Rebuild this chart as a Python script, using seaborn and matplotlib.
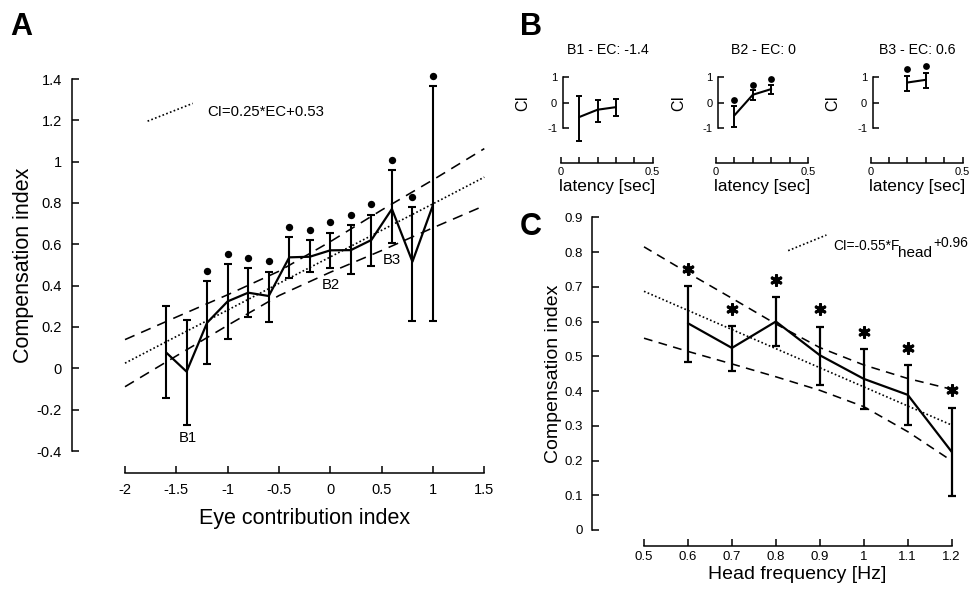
import matplotlib
matplotlib.use("Agg")
import matplotlib.pyplot as plt
import seaborn as sns
from matplotlib.lines import Line2D
from matplotlib.collections import Collection

# ---------------- data ----------------
# Panel A
ec = [-1.6, -1.4, -1.2, -1.0, -0.8, -0.6, -0.4, -0.2, 0.0, 0.2, 0.4, 0.6, 0.8, 1.0]
ci_a = [0.077, -0.016, 0.221, 0.324, 0.366, 0.350, 0.537, 0.540, 0.571, 0.572, 0.621, 0.771, 0.516, 0.790]
ci_a_hi = [0.303, 0.234, 0.424, 0.503, 0.484, 0.467, 0.637, 0.619, 0.656, 0.692, 0.743, 0.959, 0.779, 1.367]
ci_a_lo = [-0.142, -0.274, 0.021, 0.140, 0.247, 0.226, 0.435, 0.464, 0.484, 0.455, 0.495, 0.608, 0.230, 0.230]
star_a_x = [-1.2, -1.0, -0.8, -0.6, -0.4, -0.2, 0.0, 0.2, 0.4, 0.6, 0.8, 1.0]
star_a_y = [0.472, 0.552, 0.535, 0.518, 0.685, 0.669, 0.706, 0.742, 0.795, 1.008, 0.829, 1.414]
fit_a_x = [-2.0, -1.5, -1.0, -0.5, 0.0, 0.5, 1.0, 1.5]
fit_a_mid = [0.025, 0.154, 0.282, 0.411, 0.539, 0.668, 0.796, 0.925]
fit_a_hi = [0.139, 0.248, 0.356, 0.470, 0.613, 0.766, 0.912, 1.063]
fit_a_lo = [-0.089, 0.060, 0.208, 0.352, 0.465, 0.570, 0.680, 0.787]
key_a_x = [-1.78, -1.34]
key_a_y = [1.196, 1.282]
labels_a = ["B1", "B2", "B3"]
labels_a_x = [-1.39, 0.0, 0.6]
labels_a_y = [-0.338, 0.403, 0.524]
yticks_a = [-0.4, -0.2, 0.0, 0.2, 0.4, 0.6, 0.8, 1.0, 1.2, 1.4]
yticklabels_a = ["-0.4", "-0.2", "0", "0.2", "0.4", "0.6", "0.8", "1", "1.2", "1.4"]
xticks_a = [-2.0, -1.5, -1.0, -0.5, 0.0, 0.5, 1.0, 1.5]
xticklabels_a = ["-2", "-1.5", "-1", "-0.5", "0", "0.5", "1", "1.5"]

# Panel B
b_titles = ["B1 - EC: -1.4", "B2 - EC: 0", "B3 - EC: 0.6"]
b1_x = [0.1, 0.2, 0.3]
b1_y = [-0.566, -0.28, -0.18]
b1_hi = [0.27, 0.10, 0.13]
b1_lo = [-1.51, -0.74, -0.54]
b1_star_x = []
b1_star_y = []
b2_x = [0.1, 0.2, 0.3]
b2_y = [-0.50, 0.30, 0.52]
b2_hi = [-0.155, 0.47, 0.69]
b2_lo = [-0.96, 0.10, 0.34]
b2_star_x = [0.1, 0.2, 0.3]
b2_star_y = [0.10, 0.68, 0.92]
b3_x = [0.2, 0.3]
b3_y = [0.775, 0.88]
b3_hi = [1.03, 1.16]
b3_lo = [0.465, 0.58]
b3_star_x = [0.2, 0.3]
b3_star_y = [1.29, 1.42]
xticks_b = [0.0, 0.1, 0.2, 0.3, 0.4, 0.5]
xticklabels_b = ["0", "", "", "", "", "0.5"]
yticks_b = [-1, 0, 1]
yticklabels_b = ["-1", "0", "1"]

# Panel C
freq = [0.6, 0.7, 0.8, 0.9, 1.0, 1.1, 1.2]
ci_c = [0.595, 0.524, 0.600, 0.503, 0.435, 0.389, 0.225]
ci_c_hi = [0.702, 0.587, 0.670, 0.585, 0.521, 0.474, 0.352]
ci_c_lo = [0.483, 0.458, 0.531, 0.417, 0.348, 0.303, 0.099]
star_c_y = [0.751, 0.636, 0.720, 0.636, 0.571, 0.523, 0.402]
fit_c_x = [0.5, 0.6, 0.7, 0.8, 0.9, 1.0, 1.1, 1.2]
fit_c_mid = [0.687, 0.632, 0.577, 0.522, 0.467, 0.412, 0.357, 0.302]
fit_c_hi = [0.815, 0.740, 0.667, 0.593, 0.525, 0.475, 0.436, 0.405]
fit_c_lo = [0.552, 0.514, 0.478, 0.441, 0.402, 0.355, 0.283, 0.199]
key_c_x = [0.828, 0.915]
key_c_y = [0.804, 0.849]
xticks_c = [0.5, 0.6, 0.7, 0.8, 0.9, 1.0, 1.1, 1.2]
xticklabels_c = ["0.5", "0.6", "0.7", "0.8", "0.9", "1", "1.1", "1.2"]
yticks_c = [0.0, 0.1, 0.2, 0.3, 0.4, 0.5, 0.6, 0.7, 0.8, 0.9]
yticklabels_c = ["0", "0.1", "0.2", "0.3", "0.4", "0.5", "0.6", "0.7", "0.8", "0.9"]

# ---------------- style ----------------
sns.set_theme(style="ticks")
plt.rcParams["font.family"] = ["Liberation Sans", "DejaVu Sans"]
for k in ["text.color", "axes.labelcolor", "xtick.color", "ytick.color", "axes.edgecolor"]:
    plt.rcParams[k] = "black"

W, H = 970, 590
fig = plt.figure(figsize=(W / 100, H / 100), dpi=100)
PT = 0.72  # points per pixel
DOT = (1, 1.4)


def add_axes_px(l, t, r, b):
    ax = fig.add_axes([l / W, 1 - b / H, (r - l) / W, (b - t) / H])
    ax.set_facecolor("none")
    return ax, (l, t, r, b)


def px2ax(box, x, y):
    l, t, r, b = box
    return (x - l) / (r - l), (b - y) / (b - t)


def unclip(ax):
    for ch in ax.get_children():
        if isinstance(ch, (Line2D, Collection)):
            ch.set_clip_on(False)


def errbars(ax, x, y, lo, hi, lw=1.5, cap=2.6):
    yerr = [[yy - l for yy, l in zip(y, lo)], [h - yy for yy, h in zip(y, hi)]]
    ax.errorbar(x, y, yerr=yerr, fmt="none", ecolor="black", elinewidth=lw,
                capsize=cap, capthick=lw)


def style_axes(ax, left_out, bottom_out, lw=1.1):
    for s in ["top", "right"]:
        ax.spines[s].set_visible(False)
    ax.spines["left"].set_position(("outward", left_out))
    ax.spines["bottom"].set_position(("outward", bottom_out))
    ax.spines["left"].set_linewidth(lw)
    ax.spines["bottom"].set_linewidth(lw)


# ---------------- Panel A ----------------
axA, boxA = add_axes_px(125, 79, 484.3, 451)
sns.lineplot(x=fit_a_x, y=fit_a_hi, ax=axA, color="black", linewidth=1.15,
             dashes=(6.5, 4.5), errorbar=None)
sns.lineplot(x=fit_a_x, y=fit_a_lo, ax=axA, color="black", linewidth=1.15,
             dashes=(6.5, 4.5), errorbar=None)
sns.lineplot(x=fit_a_x, y=fit_a_mid, ax=axA, color="black", linewidth=1.2,
             dashes=DOT, errorbar=None)
errbars(axA, ec, ci_a, ci_a_lo, ci_a_hi)
sns.lineplot(x=ec, y=ci_a, ax=axA, color="black", linewidth=1.6, errorbar=None, sort=False)
sns.scatterplot(x=star_a_x, y=star_a_y, ax=axA, color="black", s=28, marker="o",
                linewidth=0)
sns.lineplot(x=key_a_x, y=key_a_y, ax=axA, color="black", linewidth=1.2,
             dashes=DOT, errorbar=None)
axA.text(-1.195, 1.241, "CI=0.25*EC+0.53", fontsize=10.7, ha="left", va="center")
for t, x, y in zip(labels_a, labels_a_x, labels_a_y):
    axA.text(x, y, t, fontsize=10.7, ha="center", va="center")
axA.set_xlim(-2, 1.5)
axA.set_ylim(-0.4, 1.4)
style_axes(axA, 53.3 * PT, 22 * PT)
axA.set_xticks(xticks_a)
axA.set_xticklabels(xticklabels_a)
axA.set_yticks(yticks_a)
axA.set_yticklabels(yticklabels_a)
axA.tick_params(direction="in", length=5, width=1.1, labelsize=10.5)
axA.tick_params(axis="y", pad=7)
axA.tick_params(axis="x", pad=7)
axA.set_xlabel("Eye contribution index", fontsize=15.5)
axA.set_ylabel("Compensation index", fontsize=15.5)
axA.xaxis.set_label_coords(*px2ax(boxA, 304.5, 508))
axA.yaxis.set_label_coords(*px2ax(boxA, 34, 265))
unclip(axA)

# ---------------- Panel B ----------------
b_sets = [
    (560.7, b1_x, b1_y, b1_lo, b1_hi, b1_star_x, b1_star_y),
    (716.0, b2_x, b2_y, b2_lo, b2_hi, b2_star_x, b2_star_y),
    (870.7, b3_x, b3_y, b3_lo, b3_hi, b3_star_x, b3_star_y),
]
for title, (x0, bx, by, blo, bhi, sx, sy) in zip(b_titles, b_sets):
    ax, box = add_axes_px(x0, 76.7, x0 + 92, 128.3)
    errbars(ax, bx, by, blo, bhi, lw=1.4, cap=2.2)
    sns.lineplot(x=bx, y=by, ax=ax, color="black", linewidth=1.5, errorbar=None)
    if len(sx):
        sns.scatterplot(x=sx, y=sy, ax=ax, color="black", s=24, marker="o", linewidth=0)
    ax.set_xlim(0, 0.5)
    ax.set_ylim(-1, 1)
    style_axes(ax, -2 * PT, 35 * PT, lw=1.1)
    ax.set_xticks(xticks_b)
    ax.set_xticklabels(xticklabels_b)
    ax.set_yticks(yticks_b)
    ax.set_yticklabels(yticklabels_b)
    ax.tick_params(direction="in", length=4.5, width=1.1, labelsize=8)
    ax.tick_params(axis="y", pad=4)
    ax.tick_params(axis="x", pad=3)
    ax.set_xlabel("latency [sec]", fontsize=12.4)
    ax.set_ylabel("CI", fontsize=11.5)
    ax.xaxis.set_label_coords(*px2ax(box, x0 + 46, 179))
    ax.yaxis.set_label_coords(*px2ax(box, x0 - 30, 102.5))
    tx, ty = px2ax(box, x0 + 47, 50)
    ax.text(tx, ty, title, transform=ax.transAxes, fontsize=10.2, ha="center", va="center")
    unclip(ax)

# ---------------- Panel C ----------------
axC, boxC = add_axes_px(644, 217.3, 951.7, 530)
sns.lineplot(x=fit_c_x, y=fit_c_hi, ax=axC, color="black", linewidth=1.15,
             dashes=(5.5, 4), errorbar=None)
sns.lineplot(x=fit_c_x, y=fit_c_lo, ax=axC, color="black", linewidth=1.15,
             dashes=(5.5, 4), errorbar=None)
sns.lineplot(x=fit_c_x, y=fit_c_mid, ax=axC, color="black", linewidth=1.2,
             dashes=DOT, errorbar=None)
errbars(axC, freq, ci_c, ci_c_lo, ci_c_hi, lw=1.6, cap=3.0)
sns.lineplot(x=freq, y=ci_c, ax=axC, color="black", linewidth=1.6, errorbar=None)
sns.scatterplot(x=freq, y=star_c_y, ax=axC, color="black", s=50, marker=(6, 2, 0),
                linewidth=2.2, edgecolor="black")
sns.lineplot(x=key_c_x, y=key_c_y, ax=axC, color="black", linewidth=1.2,
             dashes=DOT, errorbar=None)
axC.set_xlim(0.5, 1.2)
axC.set_ylim(0, 0.9)
style_axes(axC, 52.3 * PT, 15.7 * PT)
axC.set_xticks(xticks_c)
axC.set_xticklabels(xticklabels_c)
axC.set_yticks(yticks_c)
axC.set_yticklabels(yticklabels_c)
axC.tick_params(direction="in", length=5, width=1.1, labelsize=9.5)
axC.tick_params(axis="y", pad=6)
axC.tick_params(axis="x", pad=4)
axC.set_xlabel("Head frequency [Hz]", fontsize=14)
axC.set_ylabel("Compensation index", fontsize=14)
axC.xaxis.set_label_coords(*px2ax(boxC, 797, 566))
axC.yaxis.set_label_coords(*px2ax(boxC, 562, 374))
unclip(axC)

# formula for C (main, subscript "head", exponent)
fig.text(833 / W, 1 - 250 / H, "CI=-0.55*F", fontsize=9.8, va="baseline", ha="left")
fig.text(898 / W, 1 - 257 / H, "head", fontsize=11, va="baseline", ha="left")
fig.text(933 / W, 1 - 247 / H, "+0.96", fontsize=10, va="baseline", ha="left")

# panel letters
fig.text(10 / W, 1 - 35 / H, "A", fontsize=22, fontweight="bold", va="baseline")
fig.text(520 / W, 1 - 35 / H, "B", fontsize=22, fontweight="bold", va="baseline")
fig.text(520 / W, 1 - 235 / H, "C", fontsize=22, fontweight="bold", va="baseline")

fig.savefig("out.png", dpi=100, facecolor="white")
